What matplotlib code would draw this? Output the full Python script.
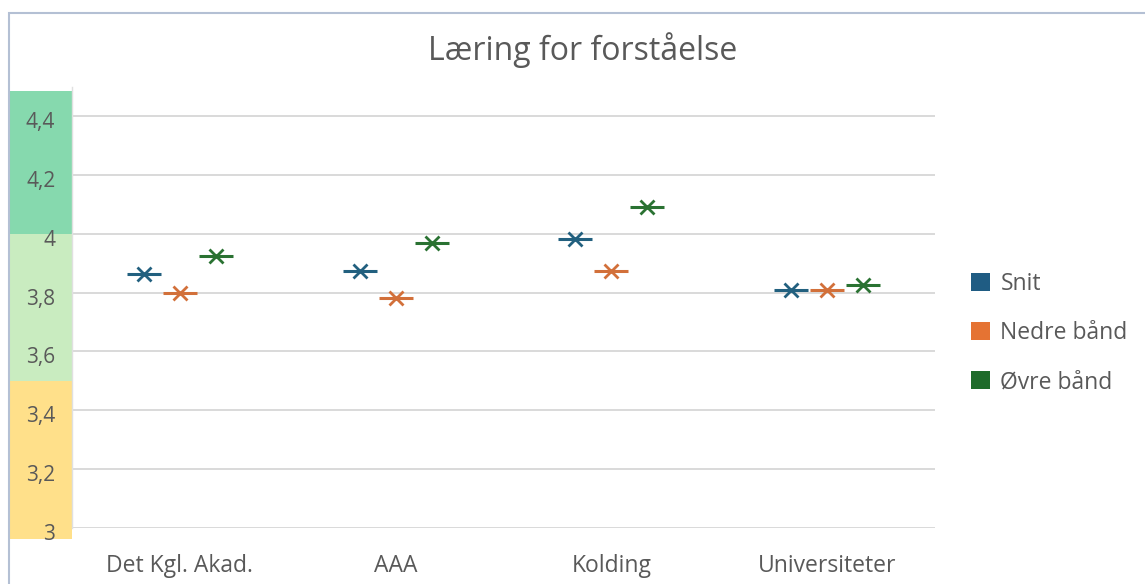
import numpy as np
import matplotlib.pyplot as plt
from matplotlib.patches import Patch, Rectangle
import matplotlib.transforms as mtransforms

plt.rcParams['font.family'] = ['Open Sans', 'DejaVu Sans']

# Data
categories = ['Det Kgl. Akad.', 'AAA', 'Kolding', 'Universiteter']
series_names = ['Snit', 'Nedre bånd', 'Øvre bånd']
snit = [3.862, 3.873, 3.981, 3.809]
nedre = [3.797, 3.780, 3.873, 3.808]
ovre = [3.924, 3.969, 4.090, 3.826]
yticks = [3.0, 3.2, 3.4, 3.6, 3.8, 4.0, 4.2, 4.4]
ytick_labels = ['3', '3,2', '3,4', '3,6', '3,8', '4', '4,2', '4,4']

# colour zones drawn beside the y axis
band_edges = [2.963, 3.5, 4.0, 4.485]
band_colors = ['#FFE08A', '#C9ECC0', '#86D9AE']

colors = ['#22607F', '#D2703A', '#2A7232']
text_color = '#595959'

fig = plt.figure(figsize=(11.45, 5.84), dpi=100)
ax = fig.add_axes([72 / 1145, 1 - 528 / 584, (935 - 72) / 1145, (528 - 86.5) / 584])

# outer chart border
fig.patches.append(Rectangle((9 / 1145, -0.1), 1.2, 1 - 13 / 584 + 0.1,
                             transform=fig.transFigure, fill=False,
                             edgecolor='#B4C0D4', lw=1.5))

x = np.arange(len(categories))
offset = 0.167
for i, (vals, c) in enumerate(zip([snit, nedre, ovre], colors)):
    xs = x + (i - 1) * offset
    ax.plot(xs, vals, ls='none', marker='_', ms=25, mew=2.2, color=c, zorder=3)
    ax.plot(xs, vals, ls='none', marker='x', ms=10, mew=2.0, color=c, zorder=3)

# colour zones to the left of the plot
trans = mtransforms.blended_transform_factory(fig.transFigure, ax.transData)
for lo, hi, c in zip(band_edges[:-1], band_edges[1:], band_colors):
    ax.add_patch(Rectangle((10 / 1145, lo), 62 / 1145, hi - lo, transform=trans,
                           facecolor=c, edgecolor='none', clip_on=False, zorder=0))

ax.set_xlim(-0.5, len(categories) - 0.5)
ax.set_ylim(3.0, 4.5)
ax.set_yticks(yticks)
ax.set_yticklabels(ytick_labels)
ax.set_xticks(x)
ax.set_xticklabels(categories)
ax.grid(axis='y', color='#D9D9D9', lw=1.4)
ax.set_axisbelow(True)
for s in ['top', 'right', 'bottom']:
    ax.spines[s].set_visible(False)
ax.spines['left'].set_color('#E0E0E0')
ax.spines['left'].set_linewidth(1.0)
ax.tick_params(axis='y', length=0, labelsize=15, labelcolor=text_color, pad=12)
ax.tick_params(axis='x', length=0, labelsize=16.5, labelcolor=text_color, pad=19)
for lab in ax.get_yticklabels():
    lab.set_transform(lab.get_transform() + mtransforms.ScaledTranslation(0, -4 / 100, fig.dpi_scale_trans))

fig.text(0.509, 1 - 50 / 584, 'Læring for forståelse', ha='center', va='center',
         fontsize=23, color=text_color)

handles = [Patch(facecolor=c, edgecolor='none') for c in ['#1F5C83', '#E57333', '#1E6B2A']]
leg = fig.legend(handles, series_names, loc='center left',
                 bbox_to_anchor=(950 / 1145, 1 - 333 / 584), frameon=False,
                 fontsize=16.5, handlelength=0.85, handleheight=0.85,
                 handletextpad=0.45, labelspacing=1.1)
for t in leg.get_texts():
    t.set_color(text_color)

fig.savefig('out.png', dpi=100)
